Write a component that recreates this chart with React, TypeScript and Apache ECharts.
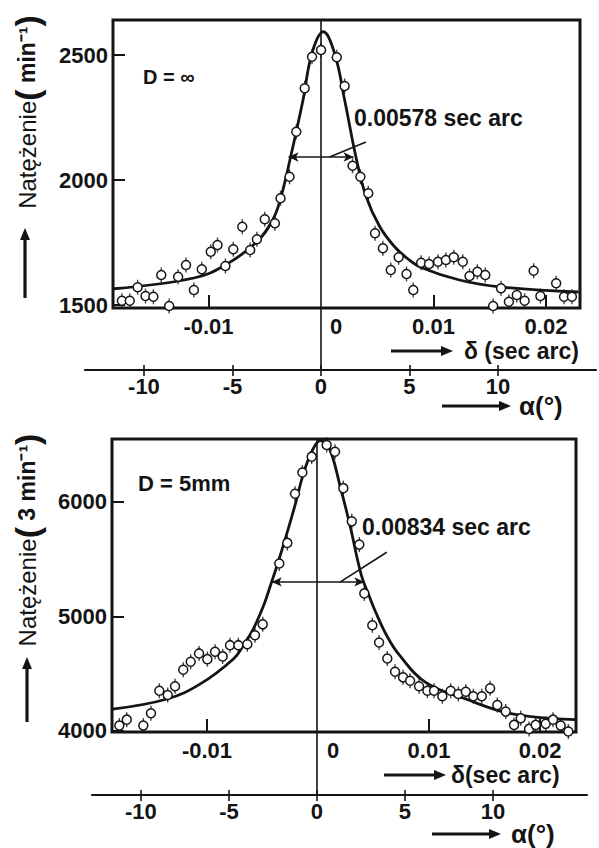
import React, { useEffect, useRef } from 'react';
import * as echarts from 'echarts';

const FONT = '"Liberation Sans", Arial, Helvetica, sans-serif';
const INK = '#141414';

// ---------- top panel: D = ∞ ----------
const topCurve: [number, number][] = [
  [-0.0184, 1565], [-0.0113, 1608], [-0.0085, 1660], [-0.0057, 1753], [-0.0043, 1840],
  [-0.0036, 1925], [-0.0027, 2093], [-0.0016, 2320], [-0.0008, 2508], [0.0002, 2593],
  [0.0012, 2508], [0.0021, 2320], [0.0031, 2093], [0.0040, 1935], [0.0052, 1815],
  [0.0065, 1735], [0.0077, 1685], [0.0089, 1650], [0.0123, 1600], [0.0160, 1572], [0.0229, 1552],
];
const topPoints: [number, number][] = [
  [-0.0177, 1517], [-0.0170, 1517], [-0.0163, 1571], [-0.0156, 1536], [-0.0149, 1533],
  [-0.0142, 1620], [-0.0135, 1496], [-0.0127, 1613], [-0.0120, 1660], [-0.0113, 1560],
  [-0.0106, 1643], [-0.0098, 1713], [-0.0092, 1740], [-0.0085, 1656], [-0.0078, 1723],
  [-0.0070, 1813], [-0.0063, 1720], [-0.0057, 1763], [-0.0050, 1843], [-0.0041, 1827],
  [-0.0036, 1927], [-0.0028, 2013], [-0.0022, 2193], [-0.00145, 2367], [-0.0008, 2493],
  [0.0, 2520], [0.0014, 2491], [0.0021, 2376], [0.0028, 2057], [0.0035, 2013], [0.0042, 1947],
  [0.0048, 1787], [0.0055, 1727], [0.0062, 1640], [0.0069, 1691], [0.0076, 1624],
  [0.0082, 1560], [0.0089, 1669], [0.0096, 1664], [0.0104, 1673], [0.0111, 1680],
  [0.0118, 1691], [0.0126, 1673], [0.0132, 1616], [0.0139, 1633], [0.0146, 1620],
  [0.0153, 1496], [0.0160, 1567], [0.0167, 1513], [0.0174, 1540], [0.0181, 1517],
  [0.0189, 1637], [0.0195, 1536], [0.0209, 1587], [0.0216, 1533], [0.0223, 1533],
];
const topYTicks = [1500, 2000, 2500];
const topFwhm = 0.00578;
const topHalfLevel = 2092;
const topLeader: [number, number][] = [[0.0040, 2152], [0.00076, 2092]];

// ---------- bottom panel: D = 5mm ----------
const bottomCurve: [number, number][] = [
  [-0.0185, 4190], [-0.0136, 4278], [-0.0106, 4410], [-0.0076, 4630], [-0.0067, 4750],
  [-0.0058, 4895], [-0.0049, 5095], [-0.0043, 5265], [-0.0036, 5470], [-0.0030, 5660],
  [-0.0021, 5960], [-0.0013, 6250], [-0.0005, 6450], [0.0002, 6533], [0.0010, 6470],
  [0.0020, 6133], [0.0029, 5785], [0.0039, 5360], [0.0046, 5180], [0.0052, 5035],
  [0.0062, 4830], [0.0073, 4665], [0.0097, 4423], [0.0133, 4278], [0.0175, 4148], [0.0232, 4098],
];
const bottomPoints: [number, number][] = [
  [-0.0179, 4046], [-0.01723, 4098], [-0.01574, 4046], [-0.01505, 4154], [-0.0143, 4350],
  [-0.01354, 4313], [-0.01288, 4389], [-0.01214, 4533], [-0.01147, 4603], [-0.01072, 4676],
  [-0.00997, 4626], [-0.00928, 4690], [-0.00859, 4650], [-0.00793, 4748], [-0.00718, 4748],
  [-0.00637, 4756], [-0.00568, 4835], [-0.00498, 4930],
  [-0.00349, 5461], [-0.00277, 5641], [-0.00207, 6070], [-0.00141, 6255], [-0.00057, 6394],
  [0.00078, 6496], [0.00153, 6437], [0.00228, 6119], [0.00304, 5829], [0.00372, 5626], [0.00417, 5200],
  [0.00489, 4922], [0.0055, 4771], [0.00624, 4632], [0.00694, 4516], [0.00766, 4467],
  [0.00829, 4437], [0.0091, 4389], [0.00985, 4350], [0.01045, 4350], [0.0112, 4302],
  [0.01195, 4350], [0.01264, 4322], [0.01331, 4342], [0.01399, 4302], [0.01475, 4302],
  [0.0155, 4371], [0.01615, 4226], [0.01691, 4168], [0.01766, 4052], [0.01826, 4110],
  [0.01901, 4017], [0.01961, 4052], [0.02051, 4061], [0.02117, 4098], [0.02186, 4046], [0.02255, 3994],
];
const bottomYTicks = [4000, 5000, 6000];
const bottomFwhm = 0.00834;
const bottomHalfLevel = 5300;
const bottomLeader: [number, number][] = [[0.00619, 5559], [0.00198, 5298]];

// ---------- shared axes ----------
const deltaTicks = [-0.01, 0.01, 0.02];
const deltaLabels = [-0.01, 0, 0.01, 0.02];
const alphaTicks = [-10, -5, 0, 5, 10];

const labelStyle = { color: INK, fontFamily: FONT, fontWeight: 'bold' as const, fontSize: 22 };

function arrow(x1: number, y1: number, x2: number, y2: number) {
  const len = Math.hypot(x2 - x1, y2 - y1);
  const dx = (x2 - x1) / len;
  const dy = (y2 - y1) / len;
  const L = 12, W = 5;
  return {
    type: 'group', silent: true,
    children: [
      { type: 'line', shape: { x1, y1, x2: x2 - dx * 8, y2: y2 - dy * 8 }, style: { stroke: INK, lineWidth: 3.2 } },
      {
        type: 'polygon',
        shape: { points: [[x2, y2], [x2 - dx * L - dy * W, y2 - dy * L + dx * W], [x2 - dx * L + dy * W, y2 - dy * L - dx * W]] },
        style: { fill: INK },
      },
    ],
  };
}

function txt(x: number, y: number, text: string, size: number, align = 'left') {
  return {
    type: 'text', x, y, silent: true,
    style: { text, fill: INK, fontFamily: FONT, fontWeight: 'bold', fontSize: size, align, verticalAlign: 'middle' },
  };
}

function yName(x: number, y: number, unit: string) {
  return {
    type: 'text', x, y, rotation: Math.PI / 2, silent: true,
    style: {
      text: `{n|Natężenie}{q|(}{p| ${unit}}{q|)}`,
      align: 'center', verticalAlign: 'middle', fill: INK,
      fontFamily: FONT, fontSize: 24,
      rich: {
        n: { fontFamily: FONT, fontSize: 24, fill: INK, fontWeight: 'normal' },
        q: { fontFamily: FONT, fontSize: 34, fill: INK, fontWeight: 'bold' },
        p: { fontFamily: FONT, fontSize: 23, fill: INK, fontWeight: 'bold' },
      },
    },
  };
}

function deltaAxis(gridIndex: number, min: number, max: number) {
  return {
    type: 'value', gridIndex, min, max, position: 'bottom',
    axisLine: { show: false, onZero: false }, splitLine: { show: false },
    axisTick: { show: true, inside: true, length: 13, customValues: deltaTicks, lineStyle: { color: INK, width: 2 } },
    axisLabel: {
      ...labelStyle, margin: 7, customValues: deltaLabels,
      formatter: (v: number) => (v === 0 ? '{z|0}' : String(v)),
      rich: { z: { ...labelStyle, padding: [0, 0, 0, 30] } },
    },
  };
}

function alphaAxes(gridIndex: number, min: number, max: number) {
  return [
    {
      type: 'value', gridIndex, min, max, position: 'bottom',
      axisLine: { show: true, onZero: false, lineStyle: { color: INK, width: 2.2 } }, splitLine: { show: false },
      axisTick: { show: true, inside: false, length: 6, customValues: alphaTicks, lineStyle: { color: INK, width: 1.6 } },
      axisLabel: { ...labelStyle, margin: 5, customValues: alphaTicks, formatter: (v: number) => String(v) },
    },
    {
      type: 'value', gridIndex, min, max, position: 'bottom',
      axisLine: { show: false, onZero: false }, splitLine: { show: false }, axisLabel: { show: false },
      axisTick: { show: true, inside: true, length: 5, customValues: alphaTicks, lineStyle: { color: INK, width: 1.6 } },
    },
  ];
}

function yAxis(gridIndex: number, min: number, max: number, ticks: number[]) {
  return {
    type: 'value', gridIndex, min, max, position: 'left',
    axisLine: { show: false, onZero: false }, splitLine: { show: false },
    axisTick: { show: true, inside: true, length: 12, customValues: ticks, lineStyle: { color: INK, width: 2 } },
    axisLabel: { ...labelStyle, margin: 5, customValues: ticks, formatter: (v: number) => String(v) },
  };
}

function panelSeries(xi: number, yi: number, curve: [number, number][], pts: [number, number][],
  fwhm: number, half: number, leader: [number, number][]) {
  return [
    {
      type: 'line', xAxisIndex: xi, yAxisIndex: yi, data: curve, smooth: 0.4, showSymbol: false,
      lineStyle: { color: INK, width: 2.8 }, z: 3,
      markLine: {
        silent: true, animation: false, symbol: ['arrow', 'arrow'], symbolSize: [7, 10],
        lineStyle: { color: INK, width: 1.6, type: 'solid' }, label: { show: false },
        data: [
          [{ coord: [-fwhm / 2, half] }, { coord: [fwhm / 2, half] }],
          [{ coord: leader[0], symbol: 'none' }, { coord: leader[1], symbol: 'none' }],
        ],
      },
    },
    {
      type: 'scatter', xAxisIndex: xi, yAxisIndex: yi, data: pts, symbol: 'rect', symbolSize: [1.4, 15],
      itemStyle: { color: INK }, z: 4,
    },
    {
      type: 'scatter', xAxisIndex: xi, yAxisIndex: yi, data: pts, symbol: 'circle', symbolSize: 9,
      itemStyle: { color: '#ffffff', borderColor: INK, borderWidth: 1.5, opacity: 1 }, z: 5,
    },
  ];
}

function zeroLine(xi: number, yi: number) {
  return {
    type: 'line', xAxisIndex: xi, yAxisIndex: yi, data: [[0, 0.5]], showSymbol: false, symbol: 'none',
    lineStyle: { width: 0 },
    markLine: {
      silent: true, animation: false, symbol: ['none', 'none'],
      lineStyle: { color: INK, width: 1.6, type: 'solid' }, label: { show: false },
      data: [{ xAxis: 0 }],
    },
  };
}

export default function App() {
  const ref = useRef<HTMLDivElement>(null);
  useEffect(() => {
    if (!ref.current) return;
    const chart = echarts.init(ref.current, undefined, { renderer: 'svg' });
    const box = { show: true, borderColor: INK, borderWidth: 3, backgroundColor: 'transparent' };
    const option: any = {
      animation: false,
      backgroundColor: '#fff',
      grid: [
        { ...box, left: 113, top: 20, width: 467, height: 288 },
        { show: false, left: 85, top: 20, width: 511, height: 350 },
        { ...box, left: 112, top: 439, width: 464, height: 293 },
        { show: false, left: 92, top: 439, width: 495, height: 356 },
      ],
      xAxis: [
        deltaAxis(0, -0.01849, 0.02302),
        ...alphaAxes(1, -13.33, 15.54),
        deltaAxis(2, -0.01856, 0.02324),
        ...alphaAxes(3, -12.78, 15.34),
      ],
      yAxis: [
        yAxis(0, 1488, 2640, topYTicks),
        { type: 'value', gridIndex: 1, min: 0, max: 1, show: false },
        yAxis(2, 3990, 6548, bottomYTicks),
        { type: 'value', gridIndex: 3, min: 0, max: 1, show: false },
      ],
      series: [
        zeroLine(1, 1),
        ...panelSeries(0, 0, topCurve, topPoints, topFwhm, topHalfLevel, topLeader),
        zeroLine(4, 3),
        ...panelSeries(3, 2, bottomCurve, bottomPoints, bottomFwhm, bottomHalfLevel, bottomLeader),
      ],
      graphic: [
        txt(143, 77, 'D = ∞', 20),
        txt(354, 118, '0.00578 sec arc', 23),
        txt(464, 351, 'δ (sec arc)', 23),
        txt(519, 406, 'α(°)', 26),
        arrow(391, 351, 453, 351),
        arrow(442, 406, 511, 406),
        yName(27, 112, 'min⁻¹'),
        arrow(25, 298, 25, 228),
        txt(138, 483, 'D = 5mm', 22),
        txt(362, 527, '0.00834 sec arc', 23),
        txt(451, 775, 'δ(sec arc)', 23),
        txt(511, 834, 'α(°)', 26),
        arrow(384, 775, 446, 775),
        arrow(432, 834, 501, 834),
        yName(27, 540, '3 min⁻¹'),
        arrow(27, 722, 27, 657),
      ],
    };
    chart.setOption(option);
    return () => chart.dispose();
  }, []);
  return <div ref={ref} style={{ position: 'absolute', left: 0, top: 0, width: 599, height: 848 }} />;
}
